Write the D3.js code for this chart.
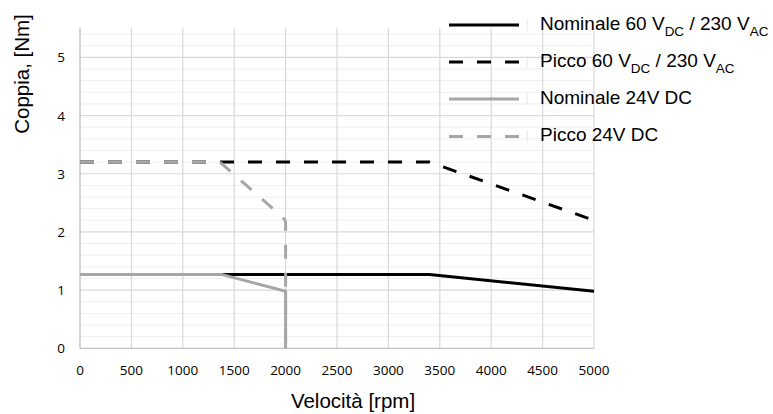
<!DOCTYPE html>
<html><head><meta charset="utf-8">
<script src="https://cdn.jsdelivr.net/npm/d3@7"></script>
<style>body{margin:0;background:#fff}svg{display:block}</style>
</head><body><svg id="c" width="773" height="414"></svg>
<script>
const xTicks = [0,500,1000,1500,2000,2500,3000,3500,4000,4500,5000];
const yTicks = [0,1,2,3,4,5];
const nom60 = [[0,1.27],[3400,1.27],[5000,0.98]];
const peak60 = [[0,3.2],[3400,3.2],[5000,2.2]];
const nom24 = [[0,1.27],[1375,1.27],[2000,0.98],[2000,0]];
const peak24 = [[0,3.2],[1360,3.2],[1975,2.25],[2000,2.18],[2000,0]];
const seriesNames = ["Nominale 60 V|DC| / 230 V|AC|","Picco 60 V|DC| / 230 V|AC|","Nominale 24V DC","Picco 24V DC"];

const svg = d3.select("#c");
const x = d3.scaleLinear().domain([0,5000]).range([80,594]);
const y = d3.scaleLinear().domain([0,5.5]).range([348.3,28.3]);

// minor grid
const minor = d3.range(0,5.5001,0.2).filter(v=>Math.abs(v-Math.round(v))>1e-6);
svg.append("g").selectAll("line").data(minor).join("line")
  .attr("x1",x(0)).attr("x2",x(5000)).attr("y1",d=>y(d)).attr("y2",d=>y(d))
  .attr("stroke","#efefef").attr("stroke-width",1);
// major grid
svg.append("g").selectAll("line").data(yTicks.slice(1)).join("line")
  .attr("x1",x(0)).attr("x2",x(5000)).attr("y1",d=>y(d)).attr("y2",d=>y(d))
  .attr("stroke","#d9d9d9").attr("stroke-width",1.2);
svg.append("g").selectAll("line").data(xTicks.slice(1)).join("line")
  .attr("x1",d=>x(d)).attr("x2",d=>x(d)).attr("y1",y(0)).attr("y2",y(5.5))
  .attr("stroke","#d9d9d9").attr("stroke-width",1.2);
// axis lines
svg.append("line").attr("x1",x(0)).attr("x2",x(0)).attr("y1",y(0)).attr("y2",y(5.5)).attr("stroke","#bfbfbf").attr("stroke-width",1.3);
svg.append("line").attr("x1",x(0)).attr("x2",x(5000)).attr("y1",y(0)).attr("y2",y(0)).attr("stroke","#bfbfbf").attr("stroke-width",1.3);

// tick labels
const tickFont = "'Open Sans', sans-serif";
svg.append("g").selectAll("text").data(xTicks).join("text")
  .attr("x",d=>x(d)).attr("y",375).attr("text-anchor","middle")
  .attr("font-family",tickFont).attr("font-size",13.5).attr("fill","#000").text(d=>d);
svg.append("g").selectAll("text").data(yTicks).join("text")
  .attr("x",65).attr("y",d=>y(d)+5).attr("text-anchor","end")
  .attr("font-family",tickFont).attr("font-size",13.5).attr("fill","#000").text(d=>d);

// axis titles
const titleFont = "'Liberation Sans', Arial, sans-serif";
svg.append("text").attr("x",353).attr("y",408).attr("text-anchor","middle")
  .attr("font-family",titleFont).attr("font-size",20.5).text("Velocità [rpm]");
svg.append("text").attr("transform","translate(29,74) rotate(-90)").attr("text-anchor","middle")
  .attr("font-family",titleFont).attr("font-size",20.5).text("Coppia, [Nm]");

// series
const line = d3.line().x(d=>x(d[0])).y(d=>y(d[1]));
const styles = [
  {c:"#000",dash:null},
  {c:"#000",dash:"14,14"},
  {c:"#a6a6a6",dash:null},
  {c:"#a6a6a6",dash:"14,14"}
];
[nom60,peak60,nom24,peak24].forEach((s,i)=>{
  svg.append("path").datum(s).attr("d",line).attr("fill","none")
    .attr("stroke",styles[i].c).attr("stroke-width",3)
    .attr("stroke-dasharray",styles[i].dash).attr("stroke-linejoin","round");
});

// legend
const ly = [25,62,99,136.5];
seriesNames.forEach((n,i)=>{
  const g = svg.append("g");
  g.append("line").attr("x1",449).attr("x2",519).attr("y1",ly[i]).attr("y2",ly[i])
    .attr("stroke",styles[i].c).attr("stroke-width",3).attr("stroke-dasharray",styles[i].dash);
  g.append("line").attr("x1",527).attr("x2",527).attr("y1",ly[i]-6).attr("y2",ly[i]+6)
    .attr("stroke","#e6e6e6").attr("stroke-width",1);
  const t = g.append("text").attr("x",540).attr("y",ly[i]+4.5)
    .attr("font-family",titleFont).attr("font-size",19).attr("fill","#000");
  const parts = n.split("|");
  parts.forEach((p,j)=>{
    if(!p) return;
    if(j%2===1){
      t.append("tspan").attr("font-size",13.5).attr("dy",6.5).text(p);
    } else {
      t.append("tspan").attr("dy", j>0 ? -6.5 : 0).text(p);
    }
  });
});
</script></body></html>
